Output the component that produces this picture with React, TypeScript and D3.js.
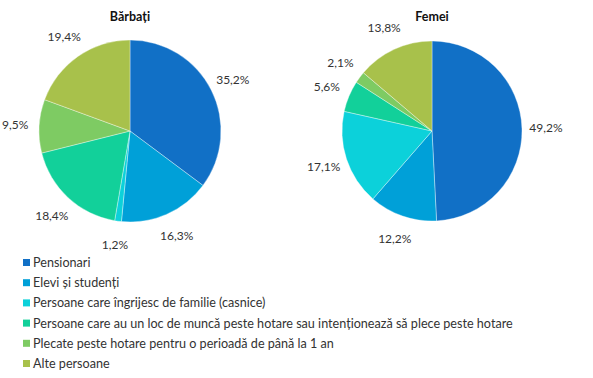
import React from "react";
import * as d3 from "d3";

const categories = [
  "Pensionari",
  "Elevi și studenți",
  "Persoane care îngrijesc de familie (casnice)",
  "Persoane care au un loc de muncă peste hotare sau intenționează să plece peste hotare",
  "Plecate peste hotare pentru o perioadă de până la 1 an",
  "Alte persoane",
];
const colors = ["#1170C6", "#00A0D8", "#0CD1DA", "#12D09A", "#7ECB63", "#A8C14B"];
const barbati = [35.2, 16.3, 1.2, 18.4, 9.5, 19.4];
const femei = [49.2, 12.2, 17.1, 5.6, 2.1, 13.8];
const titles = ["Bărbați", "Femei"];

const FONT = "Lato, 'Open Sans', sans-serif";

function Pie({ values, cx, cy, r, title }: { values: number[]; cx: number; cy: number; r: number; title: string }) {
  const pie = d3.pie<number>().sort(null).value((d) => d);
  const arcs = pie(values);
  const arc = d3.arc<d3.PieArcDatum<number>>().innerRadius(0).outerRadius(r);
  const labelR = r + 24;
  const fmt = (v: number) => v.toFixed(1).replace(".", ",") + "%";
  return (
    <g>
      <text x={cx} y={21} textAnchor="middle" fontFamily={FONT} fontWeight="bold" fontSize={12.5} fill="#111">
        {title}
      </text>
      <g transform={`translate(${cx},${cy})`}>
        {arcs.map((a, i) => (
          <path key={i} d={arc(a) || ""} fill={colors[i]} stroke="#ffffff" strokeWidth={0.6} strokeOpacity={0.6} />
        ))}
        {arcs.map((a, i) => {
          const m = (a.startAngle + a.endAngle) / 2;
          const x = Math.sin(m) * labelR;
          const y = -Math.cos(m) * labelR;
          return (
            <text key={i} x={x} y={y} dy="0.35em" textAnchor="middle" fontFamily={FONT} fontSize={12} fill="#333">
              {fmt(a.data)}
            </text>
          );
        })}
      </g>
    </g>
  );
}

export default function App() {
  const legendY = d3.scaleLinear().domain([0, 5]).range([262.5, 363.5]);
  return (
    <svg width={593} height={378} style={{ position: "absolute", left: 0, top: 0, background: "#fff" }}>
      <Pie values={barbati} cx={130} cy={131} r={91} title={titles[0]} />
      <Pie values={femei} cx={432} cy={131} r={90} title={titles[1]} />
      {categories.map((c, i) => (
        <g key={i} transform={`translate(0,${legendY(i)})`}>
          <rect x={23} y={-3.5} width={7} height={7} fill={colors[i]} />
          <text x={33} y={0} dy="0.35em" fontFamily={FONT} fontSize={12.6} fill="#333">
            {c}
          </text>
        </g>
      ))}
    </svg>
  );
}
